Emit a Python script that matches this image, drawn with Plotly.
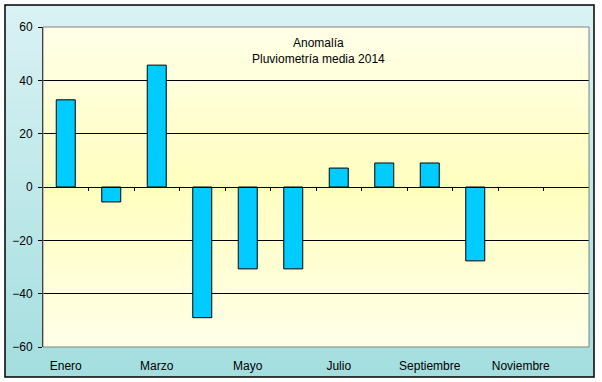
import plotly.graph_objects as go

months = ["Enero", "Febrero", "Marzo", "Abril", "Mayo", "Junio",
          "Julio", "Agosto", "Septiembre", "Octubre", "Noviembre", "Diciembre"]
anomaly = [32.7, -5.6, 45.7, -49.0, -30.7, -30.7, 7.1, 9.0, 9.0, -27.7, None, None]
shown_ticks = ["Enero", "Marzo", "Mayo", "Julio", "Septiembre", "Noviembre"]
y_ticks = [-60, -40, -20, 0, 20, 40, 60]
title_lines = ["Anomalía", "Pluviometría media 2014"]

W, H = 602, 382
L, R, T, B = 43, 13, 27, 35
pw, ph = W - L - R, H - T - B

def px2x(px):
    return (px - L) / pw

def py2y(py):
    return (H - B - py) / ph

def lerp(c1, c2, t):
    return tuple(round(a + (b - a) * t) for a, b in zip(c1, c2))

shapes = []
# outer chart-area gradient (light cyan to teal); strips overlap to hide seams
top_c, bot_c = (218, 242, 244), (164, 222, 223)
x0o, x1o, y0o, y1o = 5, 594, 5, 377
n = 40
for i in range(n):
    a = y0o + (y1o - y0o) * i / n
    b = min(y1o, y0o + (y1o - y0o) * (i + 1) / n + 1.5)
    c = lerp(top_c, bot_c, (i + 0.5) / n)
    shapes.append(dict(type="rect", xref="paper", yref="paper", layer="below",
                       x0=px2x(x0o), x1=px2x(x1o), y0=py2y(b), y1=py2y(a),
                       fillcolor="rgb(%d,%d,%d)" % c, line=dict(width=0)))
shapes.append(dict(type="rect", xref="paper", yref="paper", layer="below",
                   x0=px2x(x0o), x1=px2x(x1o), y0=py2y(y1o), y1=py2y(y0o),
                   fillcolor="rgba(0,0,0,0)", line=dict(color="black", width=1.5)))
# plot-area gradient (light cream -> yellow in middle -> light cream)
light, mid = (255, 255, 233), (255, 254, 192)
peak = 0.5
ov = 1.5 / ph
for i in range(n):
    f0, f1 = i / n, (i + 1) / n
    fc = (f0 + f1) / 2
    t = 1 - abs(fc - peak) / peak
    c = lerp(light, mid, t)
    shapes.append(dict(type="rect", xref="paper", yref="paper", layer="below",
                       x0=0, x1=1, y0=f0, y1=min(1, f1 + ov),
                       fillcolor="rgb(%d,%d,%d)" % c, line=dict(width=0)))
# gray plot-area frame
shapes.append(dict(type="rect", xref="paper", yref="paper", layer="above",
                   x0=0, x1=1, y0=0, y1=1, fillcolor="rgba(0,0,0,0)",
                   line=dict(color="#808080", width=1)))

font_family = "Arial, Liberation Sans, sans-serif"

fig = go.Figure()
fig.add_trace(go.Bar(x=months, y=anomaly, marker=dict(color="#00CCFF",
                     line=dict(color="black", width=1)), showlegend=False))
fig.add_trace(go.Scatter(x=[], y=[], xaxis="x2", yaxis="y", showlegend=False,
                         hoverinfo="skip"))

fig.update_layout(
    width=W, height=H,
    margin=dict(l=L, r=R, t=T, b=B, pad=0, autoexpand=False),
    paper_bgcolor="white", plot_bgcolor="rgba(0,0,0,0)",
    bargap=0.583,
    shapes=shapes,
    font=dict(family=font_family, size=12, color="black"),
    xaxis=dict(type="category", categoryorder="array", categoryarray=months,
               range=[-0.5, len(months) - 0.5], automargin=False,
               tickvals=shown_ticks, ticktext=shown_ticks,
               ticks="outside", ticklen=8, tickcolor="rgba(0,0,0,0)",
               showgrid=False, showline=False, zeroline=False,
               tickfont=dict(size=12, color="black")),
    xaxis2=dict(overlaying="x", anchor="free", position=0.5, side="bottom",
                range=[-0.5, len(months) - 0.5], automargin=False,
                tickvals=[i + 0.5 for i in range(len(months) - 1)],
                ticks="outside", ticklen=3, tickcolor="black", tickwidth=1,
                showticklabels=False, showgrid=False, zeroline=False,
                showline=True, linecolor="black", linewidth=1),
    yaxis=dict(range=[-60, 60], tickvals=y_ticks, automargin=False,
               ticks="outside", ticklen=4, tickcolor="black",
               ticklabelstandoff=3,
               showline=True, linecolor="black", linewidth=1,
               showgrid=True, gridcolor="black", gridwidth=1,
               zeroline=True, zerolinecolor="black", zerolinewidth=1,
               tickfont=dict(size=12, color="black")),
    annotations=[dict(text="<br>".join(title_lines), xref="paper", yref="paper",
                      x=0.505, y=py2y(51.5), xanchor="center", yanchor="middle",
                      showarrow=False, font=dict(size=12, color="black"))],
)

fig.write_html("out.html", config={"displayModeBar": False},
               post_script="document.body.style.margin='0';document.body.style.overflow='hidden';")
